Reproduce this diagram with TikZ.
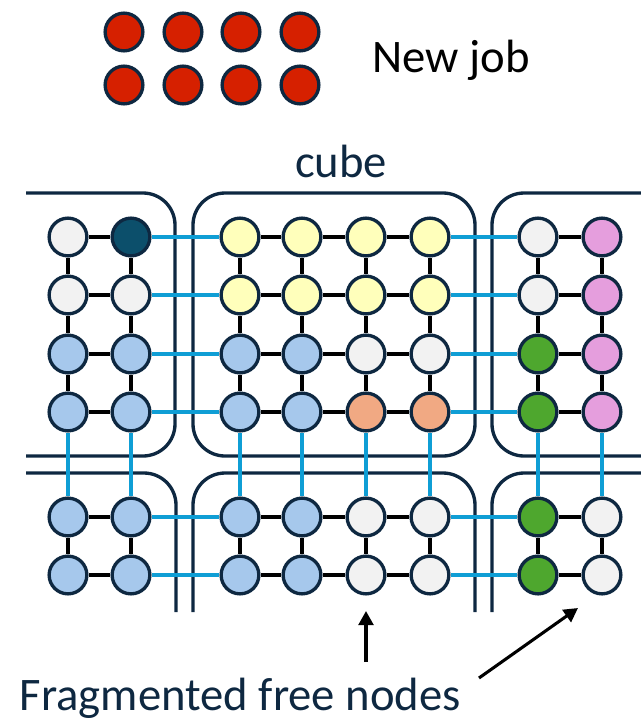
\documentclass[tikz,border=0pt]{standalone}
\usepackage{fontspec}
\setmainfont{Carlito}
\usetikzlibrary{arrows.meta}
\definecolor{navy}{HTML}{0E2841}
\definecolor{linkblue}{HTML}{0F9ED5}
\definecolor{freegrey}{HTML}{F2F2F2}
\definecolor{jobteal}{HTML}{0C4F6B}
\definecolor{jobyellow}{HTML}{FFFFBB}
\definecolor{jobblue}{HTML}{A6C8EC}
\definecolor{joborange}{HTML}{F1A983}
\definecolor{jobgreen}{HTML}{4EA72E}
\definecolor{jobpink}{HTML}{E59EDD}
\definecolor{jobred}{HTML}{D62000}

\begin{document}
\begin{tikzpicture}[x=0.75pt, y=-0.75pt,
    chip/.style={circle, draw=navy, line width=2.5pt, minimum size=28.3pt, inner sep=0pt},
    cubebox/.style={draw=navy, line width=2.5pt, rounded corners=24pt},
    wire/.style={line width=3pt, black},
    link/.style={line width=3pt, linkblue},
    bigtext/.style={font=\fontsize{35}{42}\selectfont}]
    \useasboundingbox (0,0) rectangle (641,722);

    % New job
    \foreach \x [count=\i] in {124,183,241,300} {
        \node[chip, fill=jobred] (job1\i) at (\x,32) {};
        \node[chip, fill=jobred] (job2\i) at (\x,85) {};
    }
    \node[bigtext, anchor=base west] (newjob) at (368,72) {New job};

    % Cubes
    \node[bigtext, text=navy, anchor=base] (cube) at (341,177) {cube};
    \draw[cubebox] (26,193) -- (175,193) -- (175,456) -- (26,456);
    \draw[cubebox] (193,193) rectangle (475,456);
    \draw[cubebox] (641,193) -- (492,193) -- (492,456) -- (641,456);
    \draw[cubebox] (26,473) -- (176,473) -- (176,612);
    \draw[cubebox] (193,612) -- (193,473) -- (475,473) -- (475,612);
    \draw[cubebox] (492,612) -- (492,473) -- (641,473);

    % Nodes
    \foreach \y/\fills [count=\r] in {
        237/{freegrey,jobteal,jobyellow,jobyellow,jobyellow,jobyellow,freegrey,jobpink},
        295/{freegrey,freegrey,jobyellow,jobyellow,jobyellow,jobyellow,freegrey,jobpink},
        354/{jobblue,jobblue,jobblue,jobblue,freegrey,freegrey,jobgreen,jobpink},
        412/{jobblue,jobblue,jobblue,jobblue,joborange,joborange,jobgreen,jobpink},
        517/{jobblue,jobblue,jobblue,jobblue,freegrey,freegrey,jobgreen,freegrey},
        575/{jobblue,jobblue,jobblue,jobblue,freegrey,freegrey,jobgreen,freegrey}} {
        \foreach \f [count=\c] in \fills {
            \pgfmathsetmacro{\colx}{{68,131,240,302,366,430,538,602}[\c-1]}
            \node[chip, fill=\f] (n\r\c) at (\colx,\y) {};
        }
    }

    % Links inside a cube
    \foreach \r in {1,...,6} {
        \foreach \a/\b in {1/2,3/4,4/5,5/6,7/8}
            \draw[wire] (n\r\a) -- (n\r\b);
        \foreach \a/\b in {2/3,6/7}
            \draw[link] (n\r\a) -- (n\r\b);
    }
    \foreach \c in {1,...,8} {
        \foreach \a/\b in {1/2,2/3,3/4,5/6}
            \draw[wire] (n\a\c) -- (n\b\c);
        \draw[link] (n4\c) -- (n5\c);
    }

    % Fragmented free nodes
    \node[bigtext, text=navy, anchor=base west] (free) at (15,710) {Fragmented free nodes};
    \coordinate (tipa) at (366,611);
    \coordinate (tailb) at (479,678);
    \coordinate (tipb) at (578,608);
    \draw[-{Triangle[length=10.5pt, width=11pt]}, line width=2.3pt] (366,662) -- (tipa);
    \draw[-{Triangle[length=10.5pt, width=11pt]}, line width=2.3pt] (tailb) -- (tipb);

\end{tikzpicture}
\end{document}
